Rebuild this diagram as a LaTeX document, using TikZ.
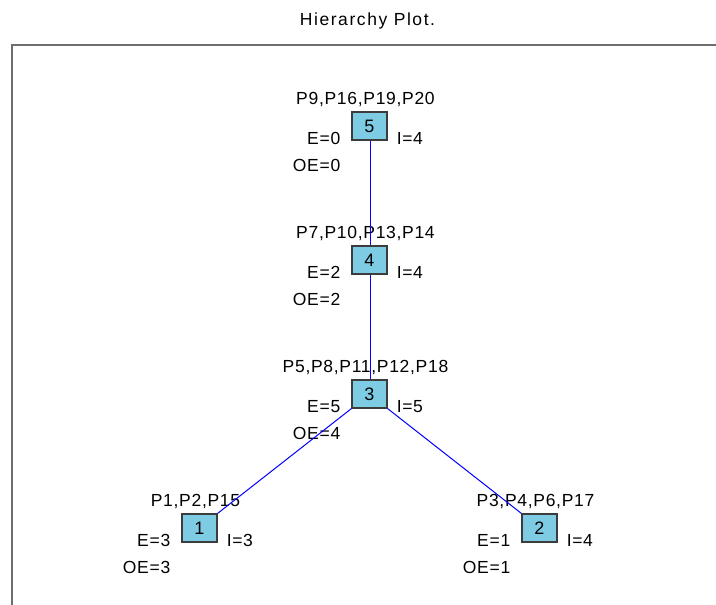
\documentclass[tikz,border=0pt]{standalone}
\usepackage{fontspec}
\setmainfont{Liberation Sans}
\definecolor{boxfill}{RGB}{126,203,228}
\definecolor{boxline}{RGB}{60,60,60}
\definecolor{framecol}{RGB}{110,110,110}
\definecolor{linkblue}{RGB}{0,0,255}
\tikzset{
  x=1pt, y=1pt,
  txt/.style={inner sep=0pt, font=\fontsize{17.5}{20}\selectfont\addfontfeature{LetterSpace=4}},
  level/.style={draw=boxline, line width=1.1pt, fill=boxfill, rectangle,
    minimum width=35pt, minimum height=28pt, inner sep=0pt,
    font=\fontsize{18}{20}\selectfont},
  linkline/.style={draw=linkblue, color=linkblue, line width=1pt},
}
\begin{document}
\begin{tikzpicture}
\useasboundingbox (0,0) rectangle (716,-605);

% title and frame
\node[inner sep=0pt, anchor=base,
  font=\fontsize{17.5}{20}\selectfont\addfontfeature{LetterSpace=9}]
  (title) at (367.5,-25) {Hierarchy Plot.};
\draw[framecol, line width=2pt] (12,-606) -- (12,-45) -- (717,-45);

% level boxes
\node[level] (b5) at (369.5,-126) {5};
\node[level] (b4) at (369.5,-260) {4};
\node[level] (b3) at (369.5,-394) {3};
\node[level] (b1) at (199.5,-528) {1};
\node[level] (b2) at (539.5,-528) {2};

% labels around each box: members above, E and OE left, I right
\foreach \b/\members/\e/\i/\oe in {
  b5/{P9,P16,P19,P20}/0/4/0,
  b4/{P7,P10,P13,P14}/2/4/2,
  b3/{P5,P8,P11,P12,P18}/5/5/4,
  b1/{P1,P2,P15}/3/3/3,
  b2/{P3,P4,P6,P17}/1/4/1}{
  \node[txt, anchor=base] (\b-m) at ([xshift=-4pt, yshift=7pt]\b.north) {\members};
  \node[txt, anchor=base east] (\b-e) at ([xshift=-11pt, yshift=-33pt]\b.north west) {E=\e};
  \node[txt, anchor=base west] (\b-i) at ([xshift=9pt, yshift=-33pt]\b.north east) {I=\i};
  \node[txt, anchor=base east] (\b-oe) at ([xshift=-11pt, yshift=-60pt]\b.north west) {OE=\oe};
}

% hierarchy links
\draw[linkline] ([xshift=0.5pt]b5.south) -- ([xshift=0.5pt]b4.north);
\draw[linkline] ([xshift=0.5pt]b4.south) -- ([xshift=0.5pt]b3.north);
\draw[linkline] (b3.south west) -- (b1.north east);
\draw[linkline] (b3.south east) -- (b2.north west);
\end{tikzpicture}
\end{document}
